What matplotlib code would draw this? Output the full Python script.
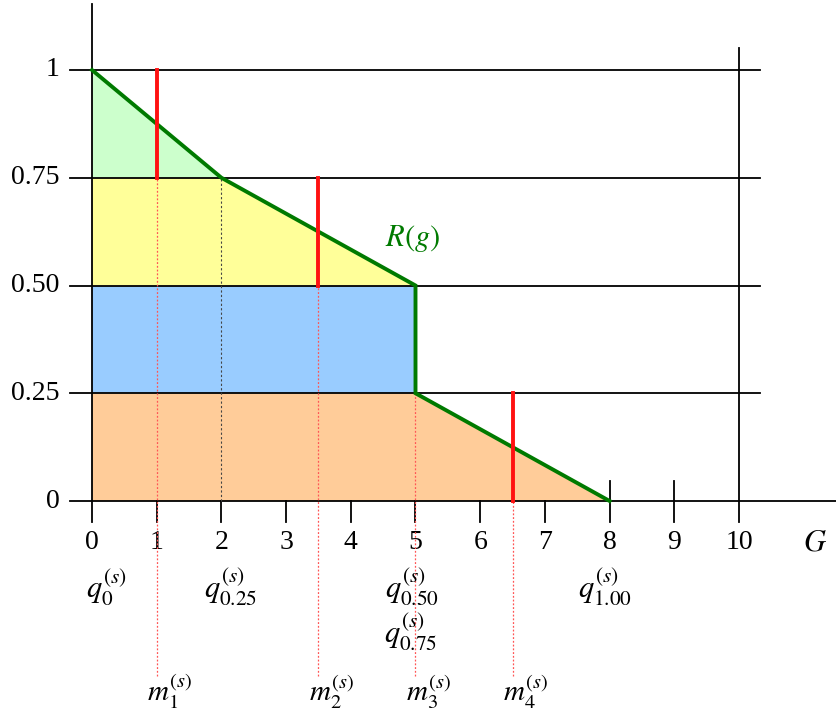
import matplotlib.pyplot as plt
import numpy as np

plt.rcParams['font.family'] = ['Liberation Serif', 'DejaVu Serif']
plt.rcParams['mathtext.fontset'] = 'stix'

# data
x_ticks = [0, 1, 2, 3, 4, 5, 6, 7, 8, 9, 10]
y_levels = [0, 0.25, 0.5, 0.75, 1]
y_labels = ['0', '0.25', '0.50', '0.75', '1']

# R(g) curve
r_x = [0, 2, 5, 5, 8]
r_y = [1, 0.75, 0.5, 0.25, 0]

# bands under R(g)
band_green_x = [0, 2, 0]
band_green_y = [1, 0.75, 0.75]
band_yellow_x = [0, 2, 5, 0]
band_yellow_y = [0.75, 0.75, 0.5, 0.5]
band_blue_x = [0, 5, 5, 0]
band_blue_y = [0.5, 0.5, 0.25, 0.25]
band_orange_x = [0, 5, 8, 0]
band_orange_y = [0.25, 0.25, 0, 0]

# means (red bars)
m_x = [1, 3.5, 5, 6.5]
m_low = [0.75, 0.5, 0.25, 0]
m_high = [1, 0.75, 0.5, 0.25]
m_bar = [True, True, False, True]
m_names = ['$m_1^{(s)}$', '$m_2^{(s)}$', '$m_3^{(s)}$', '$m_4^{(s)}$']

# quantile labels
q_x = [0.22, 2.15, 4.95, 4.93, 7.93]
q_y = [-0.2, -0.2, -0.2, -0.305, -0.2]
q_names = ['$q_{0}^{(s)}$', '$q_{0.25}^{(s)}$', '$q_{0.50}^{(s)}$',
           '$q_{0.75}^{(s)}$', '$q_{1.00}^{(s)}$']

fig = plt.figure(figsize=(8.37, 7.14), dpi=100)
ax = fig.add_axes([0, 0, 1, 1])
ax.set_xlim(-92 / 64.7, (837 - 92) / 64.7)
ax.set_ylim((501 - 714) / 431, 501 / 431)
ax.axis('off')

ax.fill(band_green_x, band_green_y, color='#ccffcc', lw=0)
ax.fill(band_yellow_x, band_yellow_y, color='#ffff99', lw=0)
ax.fill(band_blue_x, band_blue_y, color='#99ccff', lw=0)
ax.fill(band_orange_x, band_orange_y, color='#ffcc99', lw=0)

# grid lines
for y in y_levels[1:]:
    ax.plot([-0.34, 10.33], [y, y], color='black', lw=1.3, zorder=2)
ax.plot([-0.34, 11.6], [0, 0], color='black', lw=1.3, zorder=2)
ax.plot([0, 0], [-0.049, 1.152], color='black', lw=1.3, zorder=2)
ax.plot([10, 10], [-0.049, 1.051], color='black', lw=1.3, zorder=2)
for x in x_ticks[1:8]:
    ax.plot([x, x], [-0.049, 0], color='black', lw=1.3, zorder=2)
for x in x_ticks[8:10]:
    ax.plot([x, x], [-0.049, 0.046], color='black', lw=1.3, zorder=2)

# tick labels
for x in x_ticks:
    ax.text(x, -0.097, str(x), ha='center', va='center', fontsize=20)
ax.text(11.17, -0.097, '$G$', ha='center', va='center', fontsize=22)
for y, lab in zip(y_levels, y_labels):
    ax.text(-0.5, y, lab, ha='right', va='center', fontsize=20)

# dotted guides
ax.plot([2, 2], [0, 0.75], color='#444444', lw=0.8, ls=(0, (2, 2)), zorder=3)
for x, lo in zip(m_x, m_low):
    ax.plot([x, x], [-0.405, lo], color='#ff5555', lw=0.9, ls=(0, (1.5, 1.5)), zorder=3)

# R(g)
ax.plot(r_x, r_y, color='#007a00', lw=2.8, zorder=4, solid_joinstyle='miter')
ax.text(4.96, 0.608, '$R(g)$', color='#007a00', ha='center', va='center', fontsize=22)

# red bars
for x, lo, hi, b in zip(m_x, m_low, m_high, m_bar):
    if b:
        ax.plot([x, x], [lo, hi], color='#ff1111', lw=2.8, zorder=5)

for x, y, lab in zip(q_x, q_y, q_names):
    ax.text(x, y, lab, ha='center', va='center', fontsize=22)
for x, lab in zip(m_x, m_names):
    ax.text(x + 0.2, -0.442, lab, ha='center', va='center', fontsize=21)

fig.savefig('out.png', dpi=100)
